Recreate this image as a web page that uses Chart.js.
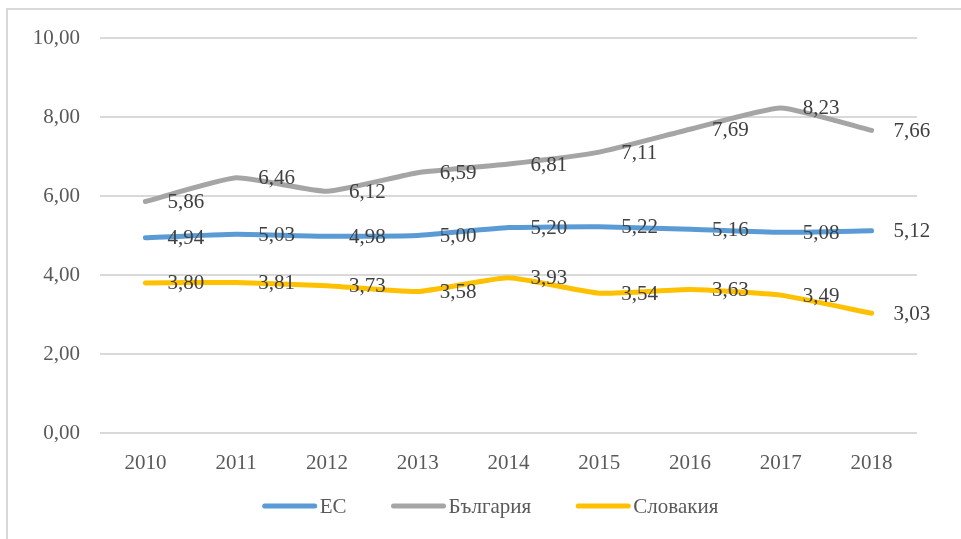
<!DOCTYPE html>
<html>
<head>
<meta charset="utf-8">
<script src="https://cdn.jsdelivr.net/npm/chart.js@4"></script>
<style>
  html, body { margin: 0; padding: 0; background: #fff; }
  #wrap { width: 961px; height: 539px; }
</style>
</head>
<body>
<div id="wrap"><canvas id="myChart" width="961" height="539"></canvas></div>
<script>
var years = ['2010', '2011', '2012', '2013', '2014', '2015', '2016', '2017', '2018'];
var euValues = [4.94, 5.03, 4.98, 5.00, 5.20, 5.22, 5.16, 5.08, 5.12];
var bgValues = [5.86, 6.46, 6.12, 6.59, 6.81, 7.11, 7.69, 8.23, 7.66];
var skValues = [3.80, 3.81, 3.73, 3.58, 3.93, 3.54, 3.63, 3.49, 3.03];
var seriesNames = ['ЕС', 'България', 'Словакия'];
var seriesColors = ['#5B9BD5', '#A5A5A5', '#FFC000'];

var FONT = '"Liberation Serif", "Times New Roman", serif';

function fmt(v) {
    return v.toFixed(2).replace('.', ',');
}

// frame, data labels and legend
var extras = {
    id: 'extras',
    beforeDraw: function (chart) {
        var c = chart.ctx;
        c.save();
        c.fillStyle = '#fff';
        c.fillRect(0, 0, chart.width, chart.height);
        c.strokeStyle = '#d9d9d9';
        c.lineWidth = 2;
        c.beginPath();
        c.moveTo(7, chart.height);
        c.lineTo(7, 9);
        c.lineTo(chart.width, 9);
        c.stroke();
        c.restore();
    },
    afterDatasetsDraw: function (chart) {
        var c = chart.ctx;
        c.save();
        c.font = '21px ' + FONT;
        c.fillStyle = '#404040';
        c.textAlign = 'left';
        c.textBaseline = 'middle';
        chart.data.datasets.forEach(function (ds, i) {
            chart.getDatasetMeta(i).data.forEach(function (pt, j) {
                c.fillText(fmt(ds.data[j]), pt.x + 22, pt.y + 1);
            });
        });

        // legend
        var y = 506, sample = 54, gap = 3, between = 45;
        c.font = '21px ' + FONT;
        c.fillStyle = '#595959';
        var widths = seriesNames.map(function (n) { return sample + gap + c.measureText(n).width; });
        var total = widths.reduce(function (a, b) { return a + b; }, 0) + between * (widths.length - 1);
        var x = chart.width / 2 + 10 - total / 2;
        seriesNames.forEach(function (n, i) {
            c.strokeStyle = seriesColors[i];
            c.lineWidth = 5;
            c.lineCap = 'round';
            c.beginPath();
            c.moveTo(x + 2, y);
            c.lineTo(x + sample - 2, y);
            c.stroke();
            c.fillText(n, x + sample + gap, y + 1);
            x += widths[i] + between;
        });
        c.restore();
    }
};

var ctx = document.getElementById('myChart').getContext('2d');
var myChart = new Chart(ctx, {
    type: 'line',
    data: {
        labels: years,
        datasets: [
            { label: seriesNames[0], data: euValues, borderColor: seriesColors[0], backgroundColor: seriesColors[0] },
            { label: seriesNames[1], data: bgValues, borderColor: seriesColors[1], backgroundColor: seriesColors[1] },
            { label: seriesNames[2], data: skValues, borderColor: seriesColors[2], backgroundColor: seriesColors[2] }
        ]
    },
    options: {
        responsive: false,
        animation: false,
        layout: {
            padding: { left: 10, right: 44, top: 38, bottom: 0 }
        },
        elements: {
            line: { borderWidth: 5, tension: 0.15, borderCapStyle: 'round', borderJoinStyle: 'round' },
            point: { radius: 0, hoverRadius: 0 }
        },
        plugins: {
            legend: { display: false },
            tooltip: { enabled: false }
        },
        scales: {
            x: {
                offset: true,
                grid: { display: false, drawTicks: false },
                border: { display: false },
                ticks: {
                    color: '#595959',
                    font: { family: FONT, size: 21 },
                    padding: 18,
                    maxRotation: 0
                },
                afterFit: function (scale) { scale.height = 106; }
            },
            y: {
                min: 0,
                max: 10,
                grid: { color: '#d9d9d9', lineWidth: 2, drawTicks: false },
                border: { display: false },
                ticks: {
                    stepSize: 2,
                    color: '#595959',
                    font: { family: FONT, size: 21 },
                    padding: 20,
                    callback: function (v) { return fmt(v); }
                },
                afterFit: function (scale) { scale.width = 90; }
            }
        }
    },
    plugins: [extras]
});
</script>
</body>
</html>
